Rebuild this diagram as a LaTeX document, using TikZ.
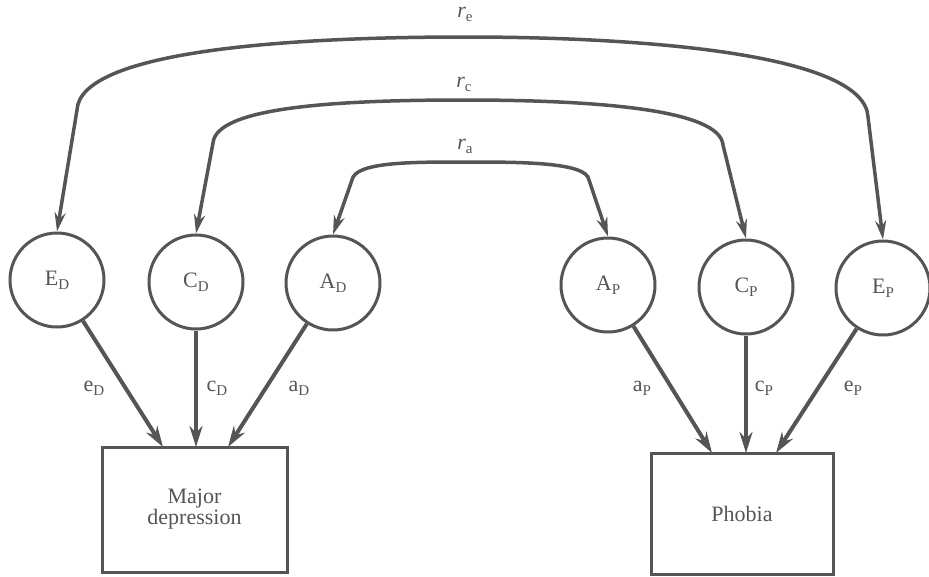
\documentclass[tikz,border=0pt]{standalone}
\usepackage{fontspec}
\setmainfont{Liberation Serif}
\usetikzlibrary{arrows.meta}
\definecolor{ink}{HTML}{555555}
\newcommand\lsub[1]{\raisebox{-0.4ex}{\fontsize{15}{15}\selectfont #1}}
\begin{document}
\begin{tikzpicture}[x=1pt,y=-1pt,
  every node/.style={text=ink,font=\fontsize{22}{21}\selectfont},
  latent/.style={circle,draw=ink,line width=3pt,minimum size=94pt,inner sep=0pt},
  observed/.style={rectangle,draw=ink,line width=3pt,inner sep=0pt,align=center},
  path/.style={draw=ink,line width=4pt,-{Stealth[length=21pt,width=13pt]}},
  corr/.style={draw=ink,line width=3.5pt,{Stealth[length=19pt,width=11pt]}-{Stealth[length=19pt,width=11pt]}},
  lbl/.style={inner sep=1pt}]
\useasboundingbox (0,0) rectangle (929,576);
% latent factors
\node[latent] (ED) at (57,280) {E\lsub{D}};
\node[latent] (CD) at (196,282) {C\lsub{D}};
\node[latent] (AD) at (333,283) {A\lsub{D}};
\node[latent] (AP) at (608,285) {A\lsub{P}};
\node[latent] (CP) at (746,287) {C\lsub{P}};
\node[latent] (EP) at (883,288) {E\lsub{P}};
% observed
\node[observed,minimum width=185pt,minimum height=125pt] (MD) at (194.5,509.5) {Major\\depression};
\node[observed,minimum width=182pt,minimum height=121pt] (PH) at (742,513.5) {Phobia};
% arrow ends on box tops
\coordinate (mde) at (163,447);
\coordinate (mdc) at (196,447);
\coordinate (mda) at (228,447);
\coordinate (pha) at (712,453);
\coordinate (phc) at (746,453);
\coordinate (phe) at (776,453);
\draw[path] (ED) -- (mde);
\draw[path] (CD) -- (mdc);
\draw[path] (AD) -- (mda);
\draw[path] (AP) -- (pha);
\draw[path] (CP) -- (phc);
\draw[path] (EP) -- (phe);
% path labels
\node[lbl] (le) at (94,388) {e\lsub{D}};
\node[lbl] (lc) at (217,388) {c\lsub{D}};
\node[lbl] (la) at (299,388) {a\lsub{D}};
\node[lbl] (lap) at (642,388) {a\lsub{P}};
\node[lbl] (lcp) at (764,388) {c\lsub{P}};
\node[lbl] (lep) at (853,388) {e\lsub{P}};
% correlation arcs
\coordinate (e1) at (77,110);
\coordinate (e2) at (465,37);
\coordinate (e3) at (868,117);
\coordinate (c1) at (213,143);
\coordinate (c2) at (464,100);
\coordinate (c3) at (723,145);
\coordinate (a1) at (352,180);
\coordinate (a2) at (465,162);
\coordinate (a3) at (589,180);
\draw[corr] (ED.north) -- (e1) .. controls (80,52) and (280,37) .. (e2)
   .. controls (650,37) and (865,55) .. (e3) -- (EP.north);
\draw[corr] (CD.north) -- (c1) .. controls (216,108) and (330,100) .. (c2)
   .. controls (600,100) and (720,110) .. (c3) -- (CP.north);
\draw[corr] (AD.north) -- (a1) .. controls (355,162) and (410,162) .. (a2)
   .. controls (520,162) and (587,162) .. (a3) -- (AP.north);
\node[lbl] (re) at (465,14) {\textit{r}\lsub{e}};
\node[lbl] (rc) at (464,84) {\textit{r}\lsub{c}};
\node[lbl] (ra) at (465,146) {\textit{r}\lsub{a}};
\end{tikzpicture}
\end{document}
